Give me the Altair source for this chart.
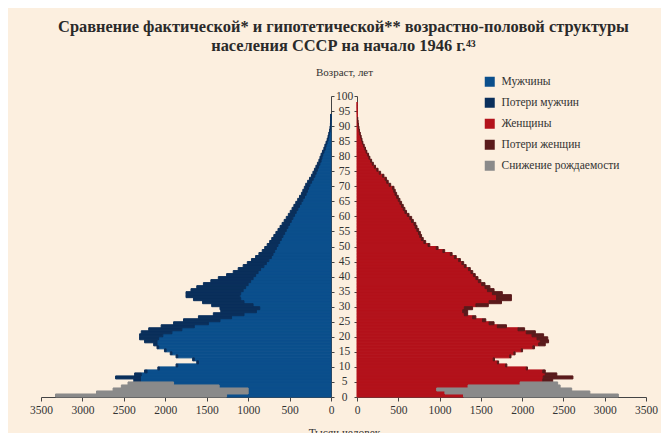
import altair as alt
import pandas as pd

# ---------------- data (thousand persons, single-year ages 0..99) ----------------
ages = list(range(100))

men = [1260, 1000, 1000, 1350, 1900, 2300, 2300, 2290, 2220, 2070,
       1850, 1600, 1650, 1850, 1920, 1990, 2080, 2100, 2100, 2080,
       2030, 1920, 1800, 1650, 1480, 1340, 1200, 1050, 900, 860,
       940, 1050, 1090, 1100, 1090, 1060, 1030, 1000, 970, 940,
       910, 880, 850, 810, 780, 750, 720, 700, 680, 660,
       640, 620, 600, 580, 560, 540, 520, 500, 480, 460,
       440, 420, 400, 380, 360, 340, 320, 300, 285, 270,
       255, 235, 215, 195, 180, 165, 150, 135, 120, 110,
       100, 85, 70, 60, 48, 36, 28, 20, 12, 7,
       4, 2, 1, 1, 0, 0, 0, 0, 0, 0]

men_loss = [0, 0, 0, 0, 0, 80, 300, 80, 30, 20,
            20, 20, 20, 20, 20, 20, 20, 40, 150, 230,
            280, 370, 400, 400, 420, 440, 400, 370, 430, 480,
            500, 500, 570, 650, 660, 630, 590, 540, 480, 420,
            350, 300, 270, 250, 230, 210, 190, 170, 150, 140,
            130, 120, 115, 110, 105, 100, 95, 90, 85, 80,
            75, 72, 70, 68, 65, 62, 60, 57, 55, 52,
            50, 47, 44, 41, 38, 35, 32, 29, 26, 23,
            20, 18, 16, 14, 12, 10, 8, 6, 5, 4,
            3, 2, 1, 1, 0, 0, 0, 0, 0, 0]

women = [1290, 1065, 965, 1345, 1975, 2250, 2255, 2280, 2250, 2050,
         1800, 1700, 1650, 1850, 1900, 1990, 2130, 2200, 2220, 2180,
         2120, 2050, 1950, 1700, 1600, 1520, 1400, 1300, 1280, 1300,
         1440, 1600, 1690, 1690, 1640, 1580, 1550, 1510, 1470, 1440,
         1410, 1380, 1350, 1300, 1270, 1230, 1180, 1130, 1040, 960,
         860, 810, 780, 760, 745, 725, 705, 690, 660, 640,
         610, 580, 560, 540, 520, 500, 480, 460, 445, 430,
         390, 360, 340, 310, 270, 240, 210, 185, 165, 145,
         130, 110, 95, 80, 65, 55, 45, 35, 27, 20,
         15, 10, 7, 5, 3, 2, 1, 1, 0, 0]

women_loss = [0, 0, 0, 0, 0, 120, 360, 140, 30, 15,
              15, 15, 15, 15, 15, 15, 20, 80, 100, 130,
              140, 110, 80, 110, 60, 40, 40, 40, 60, 100,
              150, 150, 180, 180, 120, 80, 60, 40, 30, 25,
              22, 22, 22, 22, 22, 22, 22, 22, 22, 22,
              22, 22, 22, 22, 22, 22, 22, 22, 22, 22,
              20, 20, 20, 20, 20, 20, 20, 20, 18, 18,
              18, 18, 16, 16, 16, 15, 14, 13, 12, 11,
              10, 9, 8, 7, 6, 5, 4, 3, 2, 2,
              1, 1, 1, 0, 0, 0, 0, 0, 0, 0]

men_birth_deficit = [2065, 1830, 1630, 1180, 550]
women_birth_deficit = [1875, 1755, 1635, 1115, 455]

categories = ["Мужчины", "Потери мужчин", "Женщины", "Потери женщин", "Снижение рождаемости"]
colors = ["#0b4f8c", "#0a2f5b", "#b3121b", "#5a1a1b", "#8a8a8a"]

x_ticks = [0, 500, 1000, 1500, 2000, 2500, 3000, 3500]
y_ticks = list(range(0, 101, 5))

title_lines = ["Сравнение фактической* и гипотетической** возрастно-половой структуры",
               "населения СССР на начало 1946 г.⁴³"]


def build(actual, loss, deficit, names):
    rows = []
    for i, a in enumerate(ages):
        d = deficit[i] if i < len(deficit) else 0
        s1 = actual[i]
        s2 = s1 + loss[i]
        s3 = s2 + d
        for k, (lo, hi, n) in enumerate([(0, s1, names[0]), (s1, s2, names[1]), (s2, s3, names[2])]):
            if hi > lo:
                rows.append({"age": a, "age_end": a + 1, "lo": lo, "hi": hi, "cat": n, "k": k})
    return pd.DataFrame(rows)


df_m = build(men, men_loss, men_birth_deficit, [categories[0], categories[1], categories[4]])
df_w = build(women, women_loss, women_birth_deficit, [categories[2], categories[3], categories[4]])

FONT = "Liberation Serif"
TXT = "#333333"

color_scale = alt.Scale(domain=categories, range=colors)

legend = alt.Legend(
    title=None, orient="none", legendX=443, legendY=-20,
    symbolType="square", symbolSize=100, symbolStrokeWidth=0, symbolOpacity=1,
    labelFont=FONT, labelFontSize=11.5, labelColor=TXT, rowPadding=8, labelOffset=6,
)

W_L, W_R, H = 290, 289, 301


def panel(df, reverse, y_axis):
    return alt.Chart(df).mark_rect(strokeWidth=1).encode(
        x=alt.X("lo:Q", scale=alt.Scale(domain=[0, 3500], reverse=reverse, nice=False),
                axis=x_axis_left if reverse else x_axis_right),
        x2="hi:Q",
        y=alt.Y("age:Q", scale=alt.Scale(domain=[0, 100], nice=False), axis=y_axis),
        y2="age_end:Q",
        color=alt.Color("cat:N", scale=color_scale, legend=legend, sort=categories),
        stroke=alt.Stroke("cat:N", scale=color_scale, legend=None),
        order=alt.Order("k:Q"),
    )


x_axis_left = alt.Axis(values=x_ticks, format="d", labelFlush=False, title="Тысяч человек",
                       titleX=W_L + 13, titleY=30, titleAlign="center", titleBaseline="top",
                       titleFont=FONT, titleFontSize=11.5, titleFontWeight="normal",
                       titleColor=TXT)
x_axis_right = alt.Axis(values=x_ticks, format="d", labelFlush=False, title="")

y_axis_left = alt.Axis(orient="right", values=y_ticks, labelAlign="center", labelFont=FONT,
                       tickSize=3, labelPadding=10, title="Возраст, лет", titleAngle=0,
                       titleX=13, titleY=-19, titleAlign="center", titleBaseline="bottom",
                       titleFont=FONT, titleFontSize=11, titleFontWeight="normal",
                       titleColor=TXT)
y_axis_right = alt.Axis(orient="left", values=y_ticks, labels=False, tickSize=3, title="")

left = panel(df_m, True, y_axis_left).properties(width=W_L, height=H)
right = panel(df_w, False, y_axis_right).properties(width=W_R, height=H)

chart = alt.hconcat(left, right, spacing=26, bounds="flush").properties(
    title=alt.TitleParams(text=title_lines, font=FONT, fontSize=16.4, fontWeight="bold",
                          color="#2a2a2a", anchor="middle", lineHeight=19, offset=12),
    background="#fcefdf",
    padding={"left": 21, "top": 10, "right": 3, "bottom": 0},
).configure_view(stroke=None).configure_axis(
    grid=False, domainColor="#444444", tickColor="#444444", labelFont=FONT,
    labelFontSize=11.5, labelColor=TXT, domainWidth=1, tickWidth=1,
).configure_axisX(tickSize=4, labelPadding=3)

chart.save("out.html", embed_options={"renderer": "svg", "actions": False})
